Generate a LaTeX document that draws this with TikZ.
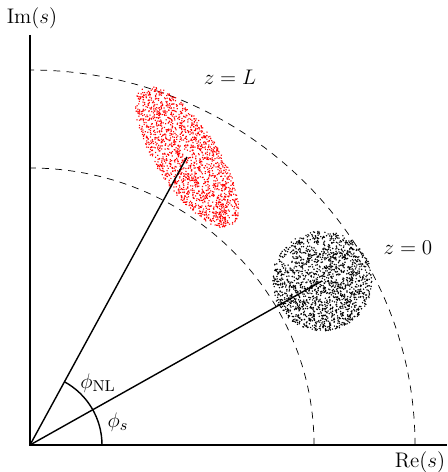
\documentclass[tikz,border=0pt]{standalone}
\usepackage{amsmath}
\usetikzlibrary{arrows.meta,positioning}

\begin{document}
\begin{tikzpicture}[x=0.02cm,y=0.02cm,font=\fontsize{12.5}{15}\selectfont,
    ring/.style={dashed,dash pattern=on 4pt off 3.5pt},
    speck/.style={fill=#1,draw=none}]
  \useasboundingbox (-30,-27) rectangle (417,445);
  \coordinate (O) at (0,0);
  \coordinate (ytop) at (0,410);
  \coordinate (xend) at (417,0);
  \coordinate (s) at (292,164);
  \coordinate (nl) at (157,288);
  \draw[ring] (284,0) arc[start angle=0,end angle=90,x radius=284,y radius=277];
  \draw[ring] (385,0) arc[start angle=0,end angle=90,x radius=385,y radius=375];
  \pgfmathsetseed{41}
  \foreach \i in {1,...,1700}{
    \pgfmathsetmacro\rdot{sqrt(rnd)}
    \pgfmathsetmacro\adot{360*rnd}
    \fill[speck=black] ([shift={(\adot:50*\rdot)}]s) circle[radius=0.8];
  }
  \begin{scope}[shift={(nl)},rotate=-57]
    \foreach \i in {1,...,1700}{
      \pgfmathsetmacro\rdot{sqrt(rnd)}
      \pgfmathsetmacro\adot{360*rnd}
      \fill[speck=red] (\adot:{82*\rdot} and {31*\rdot}) circle[radius=0.8];
    }
  \end{scope}
  \draw[thick] (ytop) -- (O) -- (xend);
  \draw[thick] (O) -- (s);
  \draw[thick] (O) -- (nl);
  \draw[thick] (72,0) arc[start angle=0,end angle=61.4,radius=72];
  \node (im) at (2,427) {$\mathrm{Im}(s)$};
  \node (re) at (390,-17) {$\mathrm{Re}(s)$};
  \node (zl) at (200,368) {$z=L$};
  \node (z0) at (378,197) {$z=0$};
  \node (pnl) at (68,62) {$\phi_{\mathrm{NL}}$};
  \node (ps) at (88,23) {$\phi_s$};
\end{tikzpicture}
\end{document}
